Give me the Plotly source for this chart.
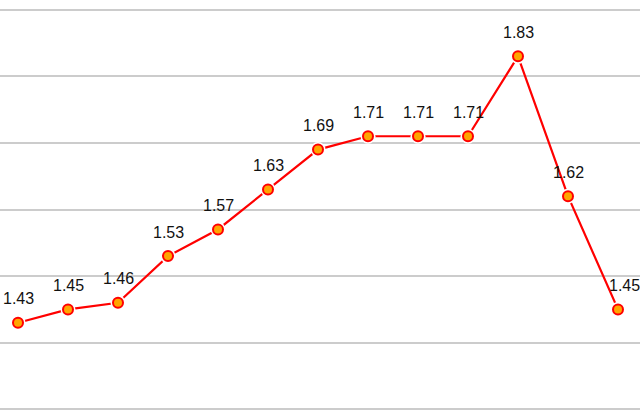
import plotly.graph_objects as go

categories = list(range(13))
values = [1.43, 1.45, 1.46, 1.53, 1.57, 1.63, 1.69, 1.71, 1.71, 1.71, 1.83, 1.62, 1.45]
labels = [f"{v:.2f}" for v in values]
label_xshift = [0]*12 + [6]

fig = go.Figure()
fig.add_trace(go.Scatter(x=categories, y=values, mode="lines",
                         line=dict(color="#FF0000", width=2.2), hoverinfo="skip"))
fig.add_trace(go.Scatter(x=categories, y=values, mode="markers",
                         marker=dict(size=15, color="white", line=dict(width=0)), hoverinfo="skip"))
fig.add_trace(go.Scatter(x=categories, y=values, mode="markers",
                         marker=dict(size=10, color="#FFA500", line=dict(color="#FF0000", width=2))))

for x, v, t, xs in zip(categories, values, labels, label_xshift):
    fig.add_annotation(x=x, y=v, text=t, showarrow=False, yshift=24, xshift=xs,
                       yanchor="middle", xanchor="center",
                       font=dict(family="Liberation Sans, Arial, sans-serif",
                                 size=16, color="#111111"))

fig.update_layout(
    width=640, height=417,
    margin=dict(l=0, r=0, t=0, b=0),
    paper_bgcolor="white", plot_bgcolor="white",
    showlegend=False,
    xaxis=dict(range=[-0.36, 12.44], showgrid=False, zeroline=False, showticklabels=False, showline=False),
    yaxis=dict(range=[1.2884, 1.9146], tickvals=[1.3, 1.4, 1.5, 1.6, 1.7, 1.8, 1.9],
               showgrid=True, gridcolor="#CCCCCC", gridwidth=2, zeroline=False,
               showticklabels=False, showline=False),
)

fig.write_html("out.html", config={"displayModeBar": False},
               post_script="document.body.style.margin='0';document.body.style.padding='0';")
